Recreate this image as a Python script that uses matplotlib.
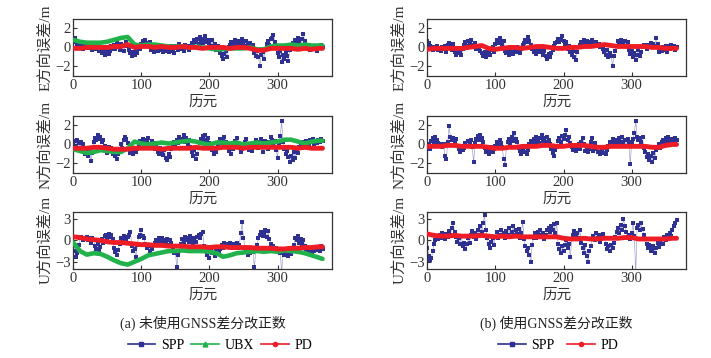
import numpy as np
import matplotlib
matplotlib.use("Agg")
import matplotlib.pyplot as plt
from matplotlib.lines import Line2D

plt.rcParams['font.family'] = ['Liberation Serif', 'Noto Sans CJK SC']
plt.rcParams['axes.unicode_minus'] = True

# ---------- data ----------
# SPP sampled every 2 epochs
spp_e_a = [0.8, 1.0, 0.6, 0.2, -0.1, 0.3, 0.1, -0.2, 0.2, 0.0,
           0.3, -0.1, 0.2, 0.0, -0.3, 0.4, 0.1, -0.2, 0.2, -0.4,
           -0.3, -0.6, -0.2, -0.8, -0.5, -0.3, -0.7, -0.4, 0.1, -0.2,
           0.3, -0.2, 0.5, 0.0, -0.3, 0.4, 0.1, -0.4, 0.2, 0.6,
           0.2, -0.3, -0.6, -0.9, -0.5, -0.8, -0.4, -0.6, 0.1, -0.2,
           0.4, 0.7, 0.3, 0.8, 0.5, 0.2, 0.6, -0.3, 0.1, -0.5,
           -0.2, 0.1, -0.4, -0.1, 0.2, -0.3, -0.5, 0.0, -0.4, -0.2,
           -0.5, -0.3, 0.1, -0.4, -0.6, 0.2, -0.1, -0.3, 0.4, -0.2,
           0.0, -0.4, 0.3, -0.1, 0.2, -0.3, 0.1, 0.5, 0.3, 0.8,
           0.6, 0.9, 0.4, 1.1, 0.7, 0.5, 0.9, 1.2, 0.6, 0.8,
           0.5, 0.2, 0.8, 0.0, 0.4, -0.3, 0.1, -0.2, -0.6, -0.9,
           -1.2, -0.7, -0.4, -1.0, 0.0, 0.3, 0.6, 0.2, 0.5, 0.8,
           0.4, 0.7, 0.3, 0.6, 0.9, 0.5, 0.2, 0.7, 0.4, 0.1,
           0.5, -0.2, 0.3, -0.6, -0.9, -0.4, -1.0, -2.0, -0.8, -0.5,
           -1.2, -0.3, 0.4, 0.7, 0.3, 0.9, 1.0, 1.3, 0.6, 0.2,
           -0.6, -1.0, -0.4, -1.5, -0.8, -1.2, -0.5, -0.9, -1.4, -0.3,
           0.2, 0.5, 0.1, 0.8, 0.4, 1.0, 0.6, 0.3, 0.9, 1.4,
           0.7, 0.2, -0.1, 0.3, -0.3, 0.0, 0.2, -0.2, 0.1, -0.4,
           0.2, -0.1, 0.3, 0.0]
spp_n_a = [0.0, 0.4, -0.3, 0.5, 0.2, -0.4, 0.3, 0.0, -0.6, -1.0,
           -0.7, -1.2, -0.5, -1.7, -0.9, 0.3, 0.7, 0.5, 1.0, 0.6,
           0.8, 0.3, 0.5, -0.2, -0.5, -0.9, -0.3, -0.7, -0.4, -1.0,
           -0.8, -1.2, -1.5, -1.0, -0.6, 0.1, -0.4, 0.5, 0.8, 0.6,
           0.2, -0.5, -0.9, -0.6, -1.0, -0.4, -0.8, -0.5, 0.0, 0.4,
           0.2, 0.6, 0.0, 0.5, 0.3, 0.7, 0.1, -0.3, 0.4, 0.2,
           -0.5, -0.2, -0.8, -1.0, -0.4, -0.7, -1.1, -0.6, -1.4, -1.6,
           -1.0, -1.3, -0.5, 0.0, 0.3, -0.2, 0.5, 0.2, 0.8, 0.4,
           0.6, 1.0, 0.3, 0.7, 0.1, 0.5, -0.3, -0.8, -1.2, -0.6,
           -1.5, -1.0, -0.4, 0.2, 0.6, 0.9, 0.5, 1.0, 0.3, 0.7,
           0.2, -0.3, -0.6, -1.0, -0.5, -0.8, -0.2, 0.3, 0.6, 0.2,
           0.5, 0.8, 0.3, -0.2, -0.7, -0.4, -1.0, -0.5, 0.0, 0.4,
           0.7, 0.2, -0.3, -0.8, -0.5, -0.2, 0.3, 0.6, 0.1, -0.6,
           -0.3, -0.7, -0.2, 0.2, 0.5, 0.0, -0.4, 0.3, 0.6, -0.8,
           -0.2, 0.4, 0.1, -0.5, 0.3, 0.8, 0.5, -0.2, 0.4, -0.6,
           -1.4, 0.2, 0.9, 2.5, 0.3, -0.5, -1.0, -0.7, -1.3, -1.8,
           -1.2, -1.6, -0.8, -1.4, -0.5, -0.9, -0.3, 0.2, -0.2, 0.3,
           0.0, 0.4, 0.2, -0.1, 0.5, 0.3, 0.6, 0.1, 0.4, 0.2,
           0.5, 0.3, 0.6, 0.4]
spp_u_a = [-0.5, -1.5, -2.3, -1.8, -0.6, 0.3, 0.5, 0.0, 0.4, 0.2,
           0.5, 0.1, 0.3, -0.3, 0.4, 0.0, -0.8, -1.2, -0.5, -1.5,
           -0.9, 0.2, -0.4, 0.6, 0.8, 0.4, 0.9, 0.5, 0.7, 0.2,
           -1.0, -1.6, -2.0, -1.3, -0.5, 0.3, -0.2, 0.6, 0.4, 0.2,
           0.5, 0.8, 1.2, -0.8, -1.5, -1.2, -2.4, -0.6, 0.5, 0.8,
           1.5, 0.6, 0.3, -0.5, -1.0, -0.6, -1.5, -0.8, -1.2, -0.7,
           -0.4, 0.0, -0.5, 0.3, -0.2, 0.4, -0.5, 0.1, -0.3, 0.2,
           -0.6, 0.0, -0.4, -1.2, -1.8, -1.5, -3.8, -2.0, -1.5, -0.5,
           0.2, -0.3, 0.5, 0.0, 0.4, -0.2, 0.6, 0.1, -0.4, 0.3,
           -0.2, 0.5, 0.8, 0.4, 0.9, 1.2, -0.8, -1.3, -2.0, -1.5,
           -2.5, -1.2, -1.8, -0.9, -2.2, -1.4, -1.0, -1.8, -1.2, -0.7,
           -1.0, -0.3, -0.8, -0.5, -0.9, -0.4, -0.7, -1.1, -0.5, -0.8,
           -0.3, -1.0, -0.6, 1.0, 2.6, 0.4, -1.0, -1.5, -2.0, -1.3,
           -1.8, -1.0, -1.6, -3.8, -1.5, -0.6, 0.3, 0.8, 1.2, 0.6,
           1.0, 1.4, 0.5, 1.3, 0.2, -0.5, -1.2, -0.8, -1.5, -1.0,
           -1.4, -1.2, -1.8, -4.5, -1.5, -2.0, -1.6, -1.8, -2.2, -1.4,
           -1.9, -1.2, -0.6, 0.4, 0.0, 0.6, -0.3, 0.2, -0.5, 0.0,
           -0.8, -1.2, -1.5, -1.0, -1.4, -1.8, -1.2, -1.5, -1.0, -1.3,
           -1.1, -1.5, -0.8, -1.2]
spp_e_b = [0.7, 0.5, 0.2, -0.1, -0.3, 0.0, -0.2, 0.1, -0.3, -0.1,
           -0.4, 0.0, -0.2, 0.2, -0.5, 0.3, 0.5, 0.1, -0.3, 0.4,
           -0.5, -0.8, -0.3, -0.6, -0.4, -0.8, -0.2, 0.3, 0.6, 0.2,
           0.7, 0.4, 0.8, 0.3, 0.1, 0.5, -0.2, 0.2, 0.0, -0.4,
           -0.6, -0.9, -0.5, -1.0, -0.7, -0.4, -0.8, -0.3, 0.0, -0.5,
           0.4, 0.8, 0.5, 1.0, 0.6, 0.3, 0.7, -0.4, -0.6, -0.2,
           -0.8, -0.5, -0.3, -0.7, -0.2, -0.5, 0.0, -0.4, -0.6, -0.2,
           0.3, 0.5, 0.8, 0.6, 1.1, 0.7, 0.3, -0.2, -0.5, -0.3,
           -0.7, -0.4, -0.1, -0.5, -0.2, -0.8, -0.4, -0.9, -1.2, -0.7,
           -1.0, -0.6, -0.3, 0.2, 0.5, 0.6, 0.9, 0.6, 0.8, 1.2,
           0.7, 0.3, 0.6, -0.2, 0.1, -0.5, -0.8, -0.4, -1.0, -1.3,
           -0.5, 0.0, 0.3, 0.6, 0.2, 0.8, 0.4, 0.7, 0.3, 0.6,
           0.2, 0.8, 0.5, 0.3, 0.6, 0.1, 0.4, 0.0, 0.3, -0.2,
           -0.5, -0.8, -0.3, -1.0, -0.6, -0.9, -2.0, -0.9, -0.4, 0.2,
           0.7, 0.4, 0.8, 0.5, 0.3, 0.7, 0.2, 0.6, -0.3, -0.7,
           -0.4, -1.0, -0.6, -1.3, -0.8, -0.3, -0.9, -0.5, 0.0, 0.3,
           0.1, -0.2, 0.3, 0.0, 0.5, 0.2, 0.4, 0.1, 1.0, 0.4,
           -0.5, -0.2, -0.4, 0.0, -0.3, 0.2, -0.5, 0.1, -0.2, 0.3,
           -0.1, 0.2, -0.3, 0.0]
spp_n_b = [-0.3, 0.0, -0.5, 0.4, 0.7, 0.3, 0.8, 0.5, 0.2, -0.2,
           0.1, -0.3, 0.0, -1.2, -1.5, 0.3, 1.9, 0.8, 0.5, 0.7,
           0.3, 0.6, -0.2, -0.5, -0.8, -0.3, -0.6, -0.4, 0.2, -0.2,
           0.4, 0.0, 0.5, -0.3, -1.9, 0.2, 0.6, 0.9, 0.5, 1.0,
           0.7, 0.3, -0.4, -0.8, -0.5, -1.0, -0.6, -0.3, -0.8, -0.5,
           -0.2, 0.3, 0.1, 0.5, 0.2, -0.3, -1.5, -2.2, -0.4, 0.3,
           0.6, 0.2, 0.8, 0.4, 1.2, 0.6, 0.3, -0.4, -0.7, -1.0,
           -0.5, -0.8, -0.3, -1.0, -0.6, 0.0, 0.4, 0.1, 0.6, 0.3,
           0.8, 0.5, 0.2, 0.7, 1.0, 0.4, 0.7, 0.3, 0.8, 0.5,
           0.1, -0.5, -0.9, -1.2, -0.6, -0.3, 0.4, 0.7, 0.3, 0.9,
           0.6, 1.0, 1.5, 0.5, 0.8, 0.2, -0.3, -0.6, -0.2, -0.7,
           -0.4, 0.0, -0.5, 0.3, 0.7, 0.1, -0.7, -0.4, -0.8, -0.5,
           0.3, 0.7, -0.7, 0.2, -0.5, -0.8, -0.3, -1.0, -0.6, -0.9,
           -0.4, -1.0, -0.6, -0.2, 0.3, 0.1, 0.6, 0.2, 0.5, 0.0,
           0.4, 0.7, 0.3, 0.8, 0.2, 0.5, -0.2, 0.6, 0.3, -2.1,
           0.2, 0.6, 1.2, 2.5, 0.8, 0.5, 0.7, 0.3, 0.8, -0.4,
           -0.8, -1.3, -1.0, -1.6, -1.2, -1.8, -0.9, -1.4, -0.6, -0.3,
           0.0, -0.4, 0.3, 0.5, 0.2, 0.7, 0.4, 0.8, 0.5, 0.3,
           0.6, 0.4, 0.7, 0.5]
spp_u_b = [-1.0, -2.2, -2.8, -2.5, -1.5, -0.5, 0.0, 0.5, 0.2, 0.8,
           0.4, 1.0, 0.6, 0.2, 0.9, 0.5, 1.3, 0.8, 1.8, 2.5,
           1.2, 0.5, -0.2, 0.3, -0.5, 0.6, -0.8, -0.3, -1.2, -0.5,
           0.4, -0.3, 0.8, 1.3, 0.5, 1.0, 0.2, 1.5, 0.7, 2.0,
           1.2, 2.5, 3.5, 1.5, 0.3, -0.5, -1.0, -0.2, 0.4, -0.6,
           0.5, 1.2, 0.3, 0.8, 1.5, 0.6, 1.0, 0.3, 1.3, 0.8,
           1.8, 0.5, 1.2, 2.0, 0.7, 1.5, 0.9, 1.6, 0.4, 1.0,
           2.6, 0.2, -0.8, -1.5, -1.0, -2.0, -3.1, -0.6, 0.4, 1.0,
           0.3, 1.2, 0.7, 1.5, 0.5, 1.0, 0.2, 0.8, 1.4, 1.8,
           1.2, 2.0, 1.5, 2.3, 1.0, 2.5, -0.5, -1.2, -1.8, -0.8,
           -1.5, -0.6, 0.0, -1.0, -0.5, -2.4, 0.2, 0.8, 1.3, 0.6,
           1.0, 0.4, 1.5, -0.3, -1.0, -1.8, -0.7, -2.2, -3.1, -1.5,
           -0.8, 0.2, 0.6, 0.0, 1.0, 0.4, 0.8, -0.2, 0.5, 0.9,
           0.3, -0.5, -1.2, -0.8, -1.5, -0.6, -1.0, -0.3, 0.5, 1.2,
           1.8, 1.0, 2.2, 1.5, 3.0, 2.0, 1.2, 0.5, 0.8, 0.2,
           1.0, 2.4, 0.6, -4.5, 1.8, 2.2, 1.5, 2.4, 1.6, 0.8,
           0.2, -0.5, -1.0, -0.6, -1.5, -1.2, -0.8, -1.8, -1.0, -0.4,
           -0.9, -0.3, 0.2, -0.5, 0.5, 0.0, 0.8, 0.3, 1.0, 0.6,
           1.5, 2.0, 2.4, 2.8]

# smooth solutions sampled every 10 epochs (last at 366)
epoch_s = [0, 10, 20, 30, 40, 50, 60, 70, 80, 90, 100, 110, 120, 130, 140, 150,
           160, 170, 180, 190, 200, 210, 220, 230, 240, 250, 260, 270, 280, 290,
           300, 310, 320, 330, 340, 350, 360, 366]
ubx_e_a = [0.8, 0.6, 0.5, 0.5, 0.5, 0.6, 0.8, 1.0, 1.1, 0.3, 0.2, 0.3, 0.3, 0.2,
           0.1, 0.1, 0.1, 0.0, 0.1, 0.0, -0.1, -0.2, -0.2, -0.1, -0.1, -0.1, 0.0,
           -0.2, -0.2, 0.1, 0.2, 0.2, 0.3, 0.2, 0.3, 0.2, 0.2, 0.2]
ubx_n_a = [-0.5, -0.7, -0.9, -0.8, -0.6, -0.7, -0.8, -0.8, -0.4, 0.3, 0.1, 0.0,
           0.1, 0.2, 0.1, 0.2, 0.3, 0.4, 0.3, 0.1, 0.0, 0.2, 0.2, 0.1, 0.2, 0.0,
           0.1, 0.2, 0.1, 0.2, 0.3, 0.5, 0.5, 0.3, 0.1, 0.3, 0.4, 0.4]
ubx_u_a = [-0.3, -1.5, -2.0, -1.8, -1.9, -2.3, -2.8, -3.2, -3.4, -3.0, -2.6, -2.1,
           -1.9, -1.7, -1.5, -1.5, -1.4, -1.5, -1.5, -1.5, -1.6, -1.8, -2.3, -2.1,
           -1.8, -1.7, -1.6, -1.5, -1.6, -1.5, -1.6, -1.4, -1.5, -1.6, -1.8, -2.1,
           -2.4, -2.6]
pd_e_a = [-0.1, -0.1, 0.0, 0.0, 0.0, 0.0, 0.1, 0.1, 0.3, 0.0, 0.1, 0.1, 0.0, 0.1,
          0.0, 0.0, 0.1, 0.0, 0.0, -0.1, 0.0, 0.0, 0.0, -0.1, 0.0, 0.0, -0.1, -0.3,
          -0.3, -0.1, -0.1, -0.1, -0.1, -0.2, -0.1, -0.2, -0.1, -0.1]
pd_n_a = [-0.4, -0.4, -0.4, -0.3, -0.3, -0.4, -0.5, -0.5, -0.5, -0.4, -0.4, -0.4,
          -0.4, -0.5, -0.4, -0.4, -0.4, -0.4, -0.3, -0.4, -0.4, -0.4, -0.3, -0.3,
          -0.3, -0.4, -0.3, -0.3, -0.3, -0.3, -0.3, -0.3, -0.3, -0.4, -0.3, -0.4,
          -0.4, -0.4]
pd_u_a = [0.5, 0.4, 0.2, 0.1, 0.0, -0.2, -0.3, -0.3, -0.4, -0.5, -0.6, -0.6, -0.7,
          -0.7, -0.8, -0.8, -0.8, -0.9, -0.9, -0.9, -1.0, -0.9, -0.9, -1.0, -1.0,
          -1.0, -1.0, -1.1, -1.1, -1.1, -1.2, -1.2, -1.1, -1.1, -1.0, -1.0, -0.9,
          -0.9]
pd_e_b = [-0.2, -0.1, -0.1, -0.1, -0.1, -0.1, 0.0, 0.1, 0.2, -0.1, -0.2, -0.1,
          0.0, 0.0, -0.1, 0.0, 0.1, 0.1, 0.0, -0.1, -0.1, 0.0, 0.0, 0.1, 0.1, 0.2,
          0.3, 0.2, 0.1, 0.1, 0.1, 0.1, 0.1, 0.0, 0.0, -0.1, -0.1, -0.1]
pd_n_b = [-0.2, -0.2, -0.2, -0.1, -0.1, -0.2, -0.2, -0.2, -0.2, -0.3, -0.4, -0.4,
          -0.3, -0.3, -0.2, -0.2, -0.2, -0.1, -0.1, -0.2, -0.2, -0.1, -0.1, -0.1,
          -0.2, -0.3, -0.3, -0.2, -0.2, -0.2, -0.2, -0.2, -0.2, -0.3, -0.3, -0.1,
          0.0, 0.0]
pd_u_b = [0.9, 0.7, 0.6, 0.6, 0.7, 0.6, 0.6, 0.6, 0.7, 0.6, 0.5, 0.6, 0.5, 0.6,
          0.5, 0.5, 0.5, 0.5, 0.5, 0.5, 0.3, 0.2, 0.2, 0.3, 0.2, 0.2, 0.3, 0.3,
          0.3, 0.4, 0.4, 0.2, 0.2, 0.2, 0.2, 0.2, 0.3, 0.3]

ylabels = ["E方向误差/m", "N方向误差/m", "U方向误差/m"]
xlabel_text = "历元"
captions = ["(a) 未使用GNSS差分改正数", "(b) 使用GNSS差分改正数"]
xticks = [0, 100, 200, 300]
yticks_en = [-2, 0, 2]
yticks_u = [-3, 0, 3]

C_SPP = "#2e3192"
C_UBX = "#22b24c"
C_PD = "#ee1c25"

fig = plt.figure(figsize=(7.11, 3.58), dpi=100)

lefts = [0.103, 0.601]
bottoms = [0.788, 0.517, 0.249]
W, H = 0.364, 0.159

spp_cols = [[spp_e_a, spp_n_a, spp_u_a], [spp_e_b, spp_n_b, spp_u_b]]
ubx_cols = [[ubx_e_a, ubx_n_a, ubx_u_a], None]
pd_cols = [[pd_e_a, pd_n_a, pd_u_a], [pd_e_b, pd_n_b, pd_u_b]]

for c in range(2):
    for r in range(3):
        ax = fig.add_axes([lefts[c], bottoms[r], W, H])
        spp = spp_cols[c][r]
        xs = np.arange(len(spp)) * 2
        ax.plot(xs, spp, color=C_SPP, lw=0.4, alpha=0.55, zorder=2)
        ax.plot(xs, spp, ls='none', marker='s', ms=3.2, mew=0, color=C_SPP, zorder=2)
        if ubx_cols[c] is not None:
            ax.plot(epoch_s, ubx_cols[c][r], color=C_UBX, lw=3.3, solid_capstyle='round', zorder=3)
        ax.plot(epoch_s, pd_cols[c][r], color=C_PD, lw=3.5, solid_capstyle='round', zorder=4)
        ax.set_xlim(0, 380)
        if r < 2:
            ax.set_ylim(-3, 3)
            ax.set_yticks(yticks_en)
        else:
            ax.set_ylim(-4, 4)
            ax.set_yticks(yticks_u)
        ax.set_xticks(xticks)
        ax.tick_params(direction='in', length=3, width=0.8, labelsize=10.5, pad=2,
                       colors='#333333')
        for s in ax.spines.values():
            s.set_linewidth(0.9)
            s.set_color('#333333')
        ax.set_ylabel(ylabels[r], fontsize=11, labelpad=2, color='#333333')
        ax.set_xlabel(xlabel_text, fontsize=10.5, labelpad=3, color='#333333')

    cx = lefts[c] + W / 2
    fig.text(cx, 0.098, captions[c], ha='center', va='center', fontsize=10, color='#222222')

h_spp = Line2D([], [], color=C_SPP, lw=1.2, marker='s', ms=3)
h_ubx = Line2D([], [], color=C_UBX, lw=1.2, marker='^', ms=3.5)
h_pd = Line2D([], [], color=C_PD, lw=1.2, marker='o', ms=3)

fig.legend([h_spp, h_ubx, h_pd], ["SPP", "UBX", "PD"], loc='center',
           bbox_to_anchor=(0.309, 0.036), ncol=3, frameon=False,
           fontsize=10, handlelength=2.0, columnspacing=0.5, handletextpad=0.4)
fig.legend([h_spp, h_pd], ["SPP", "PD"], loc='center',
           bbox_to_anchor=(0.785, 0.036), ncol=2, frameon=False,
           fontsize=10, handlelength=2.0, columnspacing=0.9, handletextpad=0.4)

fig.savefig("out.png", dpi=100)
